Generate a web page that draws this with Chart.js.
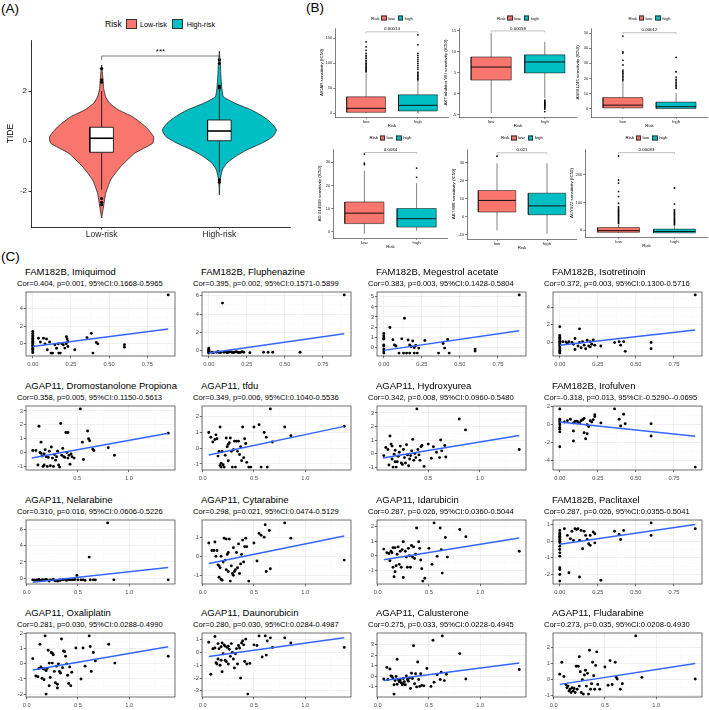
<!DOCTYPE html>
<html>
<head>
<meta charset="utf-8">
<script src="https://cdn.jsdelivr.net/npm/chart.js@4.4.1/dist/chart.umd.min.js"></script>
<style>
  html, body { margin: 0; padding: 0; background: #fff; overflow: hidden; }
  #page { position: relative; width: 709px; height: 710px; font-family: Arial, "Liberation Sans", Helvetica, sans-serif; color: #000; }
  #page canvas { position: absolute; }
  .t { position: absolute; white-space: nowrap; line-height: 1; }
  .lg { position: absolute; display: flex; align-items: center; white-space: nowrap; line-height: 1; transform: translate(-50%, -50%); }
  .lg i { display: inline-block; box-sizing: border-box; border: 0.5px solid #333; }
</style>
</head>
<body>
<div id="page"></div>
<script>
// ---------- (A) TIDE violin ----------
const riskLabels = ['Low-risk', 'High-risk'];
const riskColors = ['#F8766D', '#00BFC4'];
const tideTicks = [-2, 0, 2];
const tideLowLevels  = [-3.08, -2.6, -2.1, -1.56, -1.03, -0.49, -0.09, 0.17, 0.57, 0.97, 1.24, 1.51, 1.77, 2.1, 2.5, 3.04];
const tideLowWidth   = [0, 0.017, 0.034, 0.076, 0.161, 0.28, 0.433, 0.442, 0.374, 0.263, 0.144, 0.068, 0.034, 0.017, 0.011, 0];
const tideHighLevels = [-2.16, -1.56, -1.16, -0.89, -0.63, -0.36, -0.09, 0.17, 0.44, 0.71, 0.97, 1.24, 1.51, 1.77, 2.1, 2.6, 3.1, 3.6];
const tideHighWidth  = [0, 0.006, 0.025, 0.062, 0.133, 0.232, 0.359, 0.453, 0.485, 0.444, 0.374, 0.274, 0.133, 0.034, 0.021, 0.013, 0.008, 0];
const tideLowBox  = [-1.95, -0.45, 0.11, 0.55, 2.0];   // lo, q1, median, q3, hi
const tideHighBox = [-1.25, 0.01, 0.4, 0.84, 2.05];
const tideLowOut  = [2.35, 2.45, 2.9, -2.3, -2.45, -2.55];
const tideHighOut = [2.12, 2.2, 3.1, 3.25, -1.55, -1.65];
const tideBracket = 3.4;

// ---------- (B) drug sensitivity boxplots ----------
const drugNames = ['AICAR', 'AKT.inhibitor.VIII', 'AS601245', 'AG.014699', 'ABT.888', 'AUY922'];
const drugP = ['0.00014', '0.00058', '0.00012', '0.0034', '0.021', '0.00083'];
const drugTicks = [[0, 50, 100, 150], [-5, 0, 5, 10, 15], [0, 10, 20, 30, 40, 50], [0, 10, 20, 30], [-10, 0, 10, 20, 30], [0, 100, 200]];
const drugLimits = [[-7.4, 170.6], [-5.5, 15.7], [-5.3, 53.3], [-2.6, 35.7], [-12.3, 37.4], [-25, 293]];
const drugBracket = [163, 15, 50.2, 34.2, 35.3, 280];
const drugLowBox = [[0, 2, 10, 33, 80], [-4.5, 3.3, 6.4, 8.8, 14.5], [0, 0.7, 2.5, 7.5, 17.5], [-0.8, 3.6, 8.1, 12.9, 26.4], [-7.5, 2.6, 9, 14.5, 29.5], [-10, -8, -2, 9, 20]];
const drugHighBox = [[0, 4.7, 16, 37, 85], [-1.0, 5, 7.6, 9.3, 12.4], [0, 0.3, 1.5, 4.5, 10.5], [0.5, 2.1, 5.7, 10.1, 21], [-9.3, 1.1, 6, 13, 29.5], [-10, -10, -5, 3.5, 14]];
const drugLowOut = [
  [83, 85, 87, 89, 91, 93, 95, 98, 100, 103, 106, 110, 113, 116, 120, 126, 133, 143],
  [],
  [18.5, 19.5, 20.5, 21.5, 22.5, 23.5, 24.5, 25.6, 29, 32, 36.8, 37.5, 48],
  [29, 29.6, 33.5],
  [33.4],
  [24, 28, 32, 36, 40, 44, 48, 52, 56, 60, 64, 68, 72, 76, 80, 85, 97, 121, 139, 170, 181, 268]
];
const drugHighOut = [
  [67, 70, 73, 76, 79, 82, 88, 92, 96, 100, 104, 108, 112, 116, 120, 137, 157],
  [-1.5, -1.8, -2.0, -2.2, -2.4, -2.6, -2.8, -3.0, -3.3, -3.6, -4.2],
  [13.6, 14.5, 15.5, 16.5, 17.5, 18.5, 19.5, 21, 24.5, 34],
  [23.5, 27.5],
  [],
  [19, 23, 27, 31, 35, 39, 43, 47, 51, 55, 59, 63, 68, 73, 94, 152]
];

// ---------- (C) correlation scatter plots ----------
const famTicks = [0, 0.25, 0.5, 0.75];
const agapTicks = [0, 0.5, 1.0];
const imiquimodPts = [[0,1.4],[0,1.15],[0,0.95],[0,0.8],[0,0.6],[0,0.45],[0,0.3],[0,0.15],[0,0],[0,-0.15],[0,-0.3],[0,-0.5],[0,-0.65],[0,-0.8],[0,-1.0],[0.037,0.63],[0.07,0.63],[0.05,0.2],[0.09,0.55],[0.08,0],[0.11,0.2],[0.095,-0.67],[0.12,-1.04],[0.13,-1.04],[0.145,-0.1],[0.156,-0.5],[0.167,0],[0.19,0],[0.17,-1.04],[0.2,-0.1],[0.21,-0.48],[0.22,0],[0.23,-0.3],[0.18,-1.04],[0.22,0.8],[0.225,0.55],[0.23,0.26],[0.275,-0.67],[0.355,0.7],[0.383,1.18],[0.394,-1.04],[0.416,0.15],[0.426,0],[0.6,-0.1],[0.6,-0.37],[0.887,5.5]];
const fluphenazinePts = [[0,0.25],[0,0.1],[0,0],[0,-0.1],[0,-0.2],[0,-0.3],[0.02,-0.2],[0.03,-0.25],[0.05,-0.2],[0.06,-0.15],[0.07,-0.25],[0.08,-0.2],[0.09,5.2],[0.1,-0.2],[0.11,-0.15],[0.12,-0.25],[0.13,-0.2],[0.14,-0.15],[0.15,-0.2],[0.16,-0.25],[0.17,-0.2],[0.18,-0.15],[0.19,-0.2],[0.2,-0.25],[0.21,-0.2],[0.22,-0.15],[0.23,-0.2],[0.27,-0.25],[0.36,-0.2],[0.39,-0.2],[0.42,-0.2],[0.6,-0.2],[0.89,6.1]];
const megestrolPts = [[0,1.35],[0,1.1],[0,0.85],[0,0.8],[0,0.2],[0,0.1],[0,-0.2],[0,-0.4],[0,-0.6],[0.04,1.95],[0.06,0.73],[0.07,0.2],[0.08,0.1],[0.1,-0.6],[0.118,0.82],[0.136,2.87],[0.13,-0.6],[0.15,-0.6],[0.16,0.7],[0.17,0.2],[0.17,-0.6],[0.18,0.05],[0.19,0.6],[0.2,-0.05],[0.2,-0.6],[0.21,0.15],[0.22,-0.6],[0.23,-0.1],[0.27,0.65],[0.36,-0.6],[0.39,0.35],[0.4,-0.1],[0.42,0.75],[0.43,-0.6],[0.6,-0.2],[0.6,-0.4],[0.89,5.2]];
const isotretinoinPts = [[0,1.8],[0,0.8],[0,0.6],[0,0.45],[0,0.3],[0,0.15],[0,0],[0,-0.15],[0,-0.3],[0,-0.5],[0,-0.7],[0,-0.9],[0,-1.05],[0,-1.2],[0.02,0.1],[0.04,0.05],[0.05,-0.1],[0.06,0.1],[0.08,0],[0.09,-0.2],[0.1,0.45],[0.1,-0.8],[0.12,-0.4],[0.13,1.55],[0.13,0],[0.14,-0.6],[0.15,0.1],[0.16,-0.3],[0.17,-0.7],[0.18,0.25],[0.19,-0.4],[0.2,0.1],[0.2,-0.5],[0.21,-0.2],[0.22,0.3],[0.23,-0.3],[0.27,-0.4],[0.36,0],[0.39,0.1],[0.4,-0.3],[0.42,0.1],[0.43,-1.0],[0.6,0],[0.6,-0.7],[0.89,5.4]];
const dromostanolonePts = [[0.07,0.15],[0.1,0.15],[0.12,-0.9],[0.13,1.9],[0.14,0],[0.15,0.75],[0.15,-0.05],[0.16,-0.25],[0.17,-1.0],[0.18,-0.9],[0.18,-0.1],[0.19,0.2],[0.2,-0.3],[0.21,-1.0],[0.22,-0.35],[0.23,0.1],[0.24,-0.95],[0.25,0.4],[0.26,-0.4],[0.27,-1.0],[0.28,-0.15],[0.29,-0.55],[0.3,-0.3],[0.31,0.1],[0.32,-0.9],[0.33,-1.05],[0.34,2.1],[0.35,-0.2],[0.36,0.3],[0.37,-0.3],[0.38,-0.35],[0.39,1.45],[0.4,0.0],[0.41,1.45],[0.41,-0.4],[0.42,-0.2],[0.43,-0.85],[0.44,-0.1],[0.45,-0.3],[0.47,-0.4],[0.53,3.15],[0.55,0.75],[0.56,-0.5],[0.6,1.55],[0.61,1.0],[0.62,0.85],[0.65,0.25],[0.66,0.15],[0.8,0.35],[0.86,-0.2],[1.38,1.4]];
const tfduPts = [[0.06,1.0],[0.08,0.7],[0.1,0.4],[0.12,0.55],[0.13,0.85],[0.14,0.6],[0.15,-0.5],[0.16,-0.2],[0.17,1.35],[0.17,-1.1],[0.18,-1.2],[0.18,-0.95],[0.19,-0.2],[0.2,-1.05],[0.21,-1.2],[0.22,-0.45],[0.23,0.65],[0.24,0.1],[0.25,0.25],[0.25,-0.8],[0.26,0.35],[0.27,0.65],[0.28,-0.2],[0.29,-1.2],[0.3,-0.1],[0.31,0.45],[0.32,-1.2],[0.33,0.45],[0.34,-0.2],[0.35,0.45],[0.36,-0.4],[0.37,0.1],[0.38,-0.8],[0.39,1.35],[0.4,-0.6],[0.41,0.6],[0.42,0.3],[0.43,-0.9],[0.45,-1.2],[0.47,-1.2],[0.5,1.35],[0.55,1.5],[0.57,-1.2],[0.6,1.0],[0.62,0.7],[0.63,-1.2],[0.66,2.5],[0.68,0.4],[0.8,1.35],[0.86,0.8],[1.38,1.4]];
const hydroxyureaPts = [[0.07,-0.15],[0.09,0.45],[0.11,0.3],[0.12,-0.85],[0.13,1.3],[0.14,0.7],[0.15,-0.4],[0.15,0.55],[0.16,-1.0],[0.17,-0.05],[0.18,0.25],[0.18,-0.6],[0.19,-1.0],[0.2,-0.6],[0.21,-0.2],[0.22,0.1],[0.23,0.55],[0.24,-0.7],[0.25,-0.8],[0.26,0.3],[0.27,-0.3],[0.28,-0.7],[0.29,0.65],[0.3,-0.1],[0.31,-0.9],[0.32,-0.4],[0.33,-0.15],[0.34,0.2],[0.35,1.05],[0.36,-0.5],[0.37,0.0],[0.38,-0.3],[0.39,3.3],[0.4,0.3],[0.41,-0.1],[0.42,-0.5],[0.43,0.5],[0.44,0.6],[0.46,-0.95],[0.5,0.7],[0.53,-0.35],[0.55,0.5],[0.58,0.1],[0.61,-0.3],[0.62,1.0],[0.63,0.2],[0.66,0.6],[0.67,-0.25],[0.8,2.55],[0.86,1.75],[1.38,0.3]];
const irofulvenPts = [[0,1.75],[0,0.6],[0,0.4],[0,0.2],[0,0],[0,-0.3],[0,-0.5],[0,-0.8],[0,-2.45],[0.03,0.3],[0.05,0.45],[0.07,0.6],[0.09,0.2],[0.09,-0.7],[0.09,-1.8],[0.1,0.35],[0.11,0.4],[0.12,0.3],[0.13,0.2],[0.14,0.45],[0.15,0.55],[0.16,0.7],[0.16,-0.9],[0.17,-1.55],[0.18,0.0],[0.18,-1.0],[0.19,-0.2],[0.2,0.45],[0.21,0.3],[0.22,0.55],[0.23,1.1],[0.23,0.9],[0.27,0.2],[0.36,1.75],[0.39,0.6],[0.4,-0.15],[0.42,1.15],[0.43,0.1],[0.6,0.1],[0.6,-1.25],[0.89,-4.7]];
const nelarabinePts = [[0.06,-0.2],[0.08,-0.25],[0.1,-0.2],[0.12,-0.15],[0.13,-0.25],[0.15,-0.2],[0.16,-0.2],[0.17,-0.25],[0.18,-0.2],[0.19,-0.15],[0.2,-0.2],[0.22,-0.35],[0.23,-0.2],[0.25,-0.2],[0.26,-0.15],[0.27,-0.25],[0.28,-0.3],[0.3,-0.35],[0.31,-0.3],[0.32,-0.2],[0.33,-0.25],[0.35,-0.2],[0.36,-0.15],[0.38,-0.2],[0.39,-0.25],[0.4,-0.2],[0.42,-0.15],[0.43,-0.2],[0.45,-0.2],[0.47,-0.15],[0.49,0.35],[0.5,-0.2],[0.53,-0.2],[0.55,-0.2],[0.57,-0.25],[0.61,2.6],[0.62,-0.2],[0.65,-0.2],[0.67,-0.2],[0.79,6.8],[0.85,-0.2],[1.38,-0.2]];
const cytarabinePts = [[0.06,0.7],[0.09,0.3],[0.11,0.3],[0.12,0.75],[0.13,0.0],[0.14,0.3],[0.15,-0.45],[0.16,-0.5],[0.16,-1.1],[0.17,-0.6],[0.18,0.0],[0.18,-1.2],[0.19,-1.25],[0.2,-0.3],[0.21,0.95],[0.22,-0.2],[0.23,0.9],[0.23,-0.7],[0.24,0.1],[0.25,-0.8],[0.25,0.2],[0.26,0.9],[0.27,-1.3],[0.28,-0.5],[0.29,-0.9],[0.3,0.45],[0.3,-1.0],[0.31,-0.8],[0.32,-0.7],[0.33,0.2],[0.34,-0.6],[0.35,0.65],[0.36,-0.9],[0.37,-0.4],[0.38,0.1],[0.39,0.85],[0.4,-0.3],[0.41,0.5],[0.42,0.95],[0.43,0.5],[0.45,-1.3],[0.5,0.7],[0.53,-0.25],[0.55,1.2],[0.57,1.1],[0.6,1.0],[0.61,1.65],[0.62,-0.8],[0.65,1.35],[0.66,-0.65],[0.8,1.75],[0.86,0.95],[1.38,-0.2]];
const idarubicinPts = [[0.06,0.45],[0.09,0.2],[0.11,0.15],[0.12,-0.35],[0.13,0.3],[0.14,0.2],[0.15,-0.8],[0.15,0.55],[0.16,-1.45],[0.17,-1.1],[0.17,0.55],[0.18,-0.7],[0.19,0.1],[0.2,0.6],[0.21,-0.6],[0.22,0.3],[0.23,-0.8],[0.24,0.4],[0.25,0.95],[0.25,-1.5],[0.27,0.3],[0.28,-0.1],[0.29,-0.8],[0.3,0.5],[0.31,0.0],[0.32,-0.8],[0.33,0.7],[0.34,-0.1],[0.35,0.6],[0.36,-0.2],[0.37,0.1],[0.38,1.9],[0.4,0.95],[0.41,0.5],[0.42,-0.3],[0.43,-0.9],[0.44,-1.75],[0.46,-1.55],[0.5,0.5],[0.53,-0.6],[0.55,2.25],[0.58,-0.05],[0.61,1.9],[0.62,0.4],[0.63,-1.2],[0.66,1.25],[0.68,-0.1],[0.8,1.8],[0.86,1.3],[1.38,0.3]];
const paclitaxelPts = [[0,0.65],[0,0.5],[0,0.4],[0,0.3],[0,0.2],[0,0.1],[0,0],[0,-0.1],[0,-0.3],[0,-0.5],[0,-0.7],[0,-0.9],[0,-1.6],[0,-1.7],[0,-2.0],[0,-2.4],[0.03,0.75],[0.05,0.35],[0.06,-1.9],[0.07,0.15],[0.08,0.6],[0.09,0.05],[0.1,0.75],[0.11,0.7],[0.12,0.75],[0.13,0.05],[0.13,-2.15],[0.14,0.65],[0.15,-0.45],[0.16,0.6],[0.17,0.35],[0.18,0.1],[0.19,-0.15],[0.2,0.35],[0.2,-0.25],[0.22,0.55],[0.23,0.45],[0.23,-0.1],[0.27,-2.35],[0.36,0.6],[0.39,0.4],[0.4,0.1],[0.42,0.65],[0.6,1.1],[0.6,0.35],[0.89,0.75]];
const oxaliplatinPts = [[0.06,0.35],[0.09,-0.8],[0.11,-0.85],[0.12,-0.3],[0.13,1.3],[0.14,-0.2],[0.15,-0.95],[0.16,-0.3],[0.17,-0.35],[0.17,-1.05],[0.18,1.85],[0.19,-2.0],[0.19,-0.45],[0.2,-0.3],[0.21,0.9],[0.22,-1.45],[0.22,0.05],[0.23,-0.9],[0.24,0.75],[0.25,0.7],[0.25,0.05],[0.26,0.6],[0.27,-0.5],[0.28,-1.25],[0.29,-0.15],[0.3,-1.6],[0.3,-1.35],[0.31,0.0],[0.32,-0.5],[0.33,-0.6],[0.34,1.65],[0.35,-0.25],[0.36,0.85],[0.37,0.8],[0.38,0.5],[0.39,0.0],[0.4,-0.75],[0.41,-1.3],[0.42,-0.2],[0.43,-1.45],[0.44,-0.55],[0.48,1.05],[0.53,-1.0],[0.55,1.05],[0.57,-0.15],[0.61,1.85],[0.62,1.15],[0.63,-0.5],[0.65,0.75],[0.67,0.2],[0.8,1.3],[0.86,0.05],[1.38,0.5]];
const daunorubicinPts = [[0.06,0.8],[0.08,-1.7],[0.1,0.3],[0.12,0.35],[0.12,1.25],[0.13,-0.8],[0.14,-0.9],[0.15,0.7],[0.15,-0.5],[0.16,0.3],[0.17,-1.0],[0.18,0.45],[0.18,-0.6],[0.19,0.75],[0.19,-1.5],[0.2,-0.1],[0.21,0.6],[0.22,0.5],[0.22,-0.6],[0.23,-0.7],[0.24,0.4],[0.25,0.5],[0.25,-0.9],[0.26,0.25],[0.27,-0.3],[0.28,0.7],[0.29,0.0],[0.3,-0.5],[0.31,-1.2],[0.32,-0.1],[0.33,0.3],[0.34,-0.9],[0.35,0.55],[0.36,0.35],[0.37,-2.0],[0.38,0.75],[0.39,0.9],[0.4,0.6],[0.41,-0.7],[0.42,1.05],[0.43,-0.9],[0.44,-3.25],[0.46,-0.85],[0.5,0.6],[0.53,0.55],[0.55,1.3],[0.58,-0.35],[0.61,1.3],[0.62,-0.2],[0.63,0.9],[0.66,1.15],[0.68,0.4],[0.8,1.15],[0.86,0.75],[1.38,0.4]];
const calusteronePts = [[0.06,-0.25],[0.09,0.85],[0.1,-0.3],[0.12,0.7],[0.13,0.05],[0.14,0.0],[0.15,-0.2],[0.16,-1.68],[0.16,-0.8],[0.17,-0.4],[0.18,0.0],[0.19,1.62],[0.19,-0.75],[0.2,-0.3],[0.21,-0.5],[0.22,-0.35],[0.23,-0.6],[0.24,-0.8],[0.25,-0.2],[0.25,-0.7],[0.26,-0.5],[0.27,-0.8],[0.28,0.05],[0.29,-0.3],[0.3,-0.45],[0.31,-0.15],[0.32,-1.15],[0.33,0.3],[0.34,-0.2],[0.35,2.9],[0.36,-0.7],[0.37,0.25],[0.38,-1.0],[0.39,1.37],[0.4,-0.3],[0.41,-0.95],[0.42,0.25],[0.43,-0.85],[0.45,-0.9],[0.48,0.75],[0.52,-0.95],[0.54,3.43],[0.55,-0.55],[0.58,0.15],[0.61,-0.3],[0.62,0.4],[0.63,3.84],[0.65,-0.4],[0.67,0.2],[0.8,2.16],[0.86,-0.25],[1.38,0.65]];
const fludarabinePts = [[0.06,0.35],[0.08,1.1],[0.1,0.2],[0.12,-0.3],[0.13,-0.5],[0.14,-0.4],[0.15,-0.7],[0.16,-0.6],[0.17,-0.8],[0.18,-0.5],[0.19,-0.7],[0.2,-0.55],[0.21,-0.8],[0.22,0.85],[0.23,-0.6],[0.24,0.85],[0.25,1.45],[0.25,-0.4],[0.26,0.5],[0.27,-0.8],[0.28,0.0],[0.29,-0.9],[0.3,0.3],[0.31,0.6],[0.32,-0.4],[0.33,0.4],[0.34,-0.9],[0.35,1.85],[0.36,-0.6],[0.37,-0.25],[0.38,1.1],[0.39,0.25],[0.4,-0.6],[0.41,0.9],[0.42,1.75],[0.43,-0.3],[0.45,-0.6],[0.5,0.8],[0.53,-0.35],[0.55,1.2],[0.57,-0.3],[0.6,1.1],[0.61,0.15],[0.62,0.05],[0.65,-0.6],[0.67,-0.25],[0.8,2.75],[0.86,0.15],[1.38,0.05]];

const scatterTitles = ['FAM182B, Imiquimod', 'FAM182B, Fluphenazine', 'FAM182B, Megestrol acetate', 'FAM182B, Isotretinoin',
  'AGAP11, Dromostanolone Propiona', 'AGAP11, tfdu', 'AGAP11, Hydroxyurea', 'FAM182B, Irofulven',
  'AGAP11, Nelarabine', 'AGAP11, Cytarabine', 'AGAP11, Idarubicin', 'FAM182B, Paclitaxel',
  'AGAP11, Oxaliplatin', 'AGAP11, Daunorubicin', 'AGAP11, Calusterone', 'AGAP11, Fludarabine'];
const scatterStats = ['Cor=0.404, p=0.001, 95%CI:0.1668-0.5965', 'Cor=0.395, p=0.002, 95%CI:0.1571-0.5899',
  'Cor=0.383, p=0.003, 95%CI:0.1428-0.5804', 'Cor=0.372, p=0.003, 95%CI:0.1300-0.5716',
  'Cor=0.358, p=0.005, 95%CI:0.1150-0.5613', 'Cor=0.349, p=0.006, 95%CI:0.1040-0.5536',
  'Cor=0.342, p=0.008, 95%CI:0.0960-0.5480', 'Cor=-0.318, p=0.013, 95%CI:-0.5290--0.0695',
  'Cor=0.310, p=0.016, 95%CI:0.0606-0.5226', 'Cor=0.298, p=0.021, 95%CI:0.0474-0.5129',
  'Cor=0.287, p=0.026, 95%CI:0.0360-0.5044', 'Cor=0.287, p=0.026, 95%CI:0.0355-0.5041',
  'Cor=0.281, p=0.030, 95%CI:0.0288-0.4990', 'Cor=0.280, p=0.030, 95%CI:0.0284-0.4987',
  'Cor=0.275, p=0.033, 95%CI:0.0228-0.4945', 'Cor=0.273, p=0.035, 95%CI:0.0208-0.4930'];
const scatterPoints = [imiquimodPts, fluphenazinePts, megestrolPts, isotretinoinPts,
  dromostanolonePts, tfduPts, hydroxyureaPts, irofulvenPts,
  nelarabinePts, cytarabinePts, idarubicinPts, paclitaxelPts,
  oxaliplatinPts, daunorubicinPts, calusteronePts, fludarabinePts];
const scatterFits = [[0,-0.3,0.887,1.67],[0,-0.3,0.89,1.83],[0,-0.33,0.89,1.62],[0,-0.3,0.89,1.43],
  [0.06,-0.39,1.38,1.39],[0.06,-0.43,1.38,1.39],[0.06,-0.33,1.38,1.34],[0,0.29,0.89,-1.27],
  [0.06,-0.5,1.38,1.32],[0.06,-0.38,1.38,1.06],[0.06,-0.28,1.38,1.22],[0,-0.18,0.89,1.01],
  [0.06,-0.41,1.38,1.14],[0.06,-0.31,1.38,1.16],[0.06,-0.38,1.38,1.27],[0.06,-0.29,1.38,1.02]];
const scatterYTicks = [[0,2,4],[0,2,4,6],[0,1,2,3,4,5],[0,2,4],
  [-1,0,1,2,3],[-1,0,1,2],[-1,0,1,2,3],[-4,-2,0,2],
  [0,2,4,6],[-1,0,1],[-1,0,1,2],[-2,-1,0,1],
  [-2,-1,0,1,2],[-3,-2,-1,0,1],[-1,0,1,2,3],[-1,0,1,2]];

// ---------- helpers ----------
const FONT = 'Arial, "Liberation Sans", Helvetica, sans-serif';
Chart.defaults.font.family = FONT;
Chart.defaults.color = '#000';
const page = document.getElementById('page');

function makeCanvas(left, top, w, h) {
  const c = document.createElement('canvas');
  c.width = Math.round(w); c.height = Math.round(h);
  c.style.left = Math.round(left) + 'px'; c.style.top = Math.round(top) + 'px';
  page.appendChild(c);
  return c;
}
function text(str, left, top, size, color) {
  const d = document.createElement('div');
  d.className = 't'; d.textContent = str;
  d.style.left = left + 'px'; d.style.top = top + 'px'; d.style.fontSize = size + 'px';
  if (color) d.style.color = color;
  page.appendChild(d);
  return d;
}
function extent(vals) {
  const lo = Math.min(...vals), hi = Math.max(...vals), pad = (hi - lo) * 0.05;
  return [lo - pad, hi + pad];
}
function withMinors(majors, min, max) {
  const step = majors[1] - majors[0];
  const all = majors.map(v => ({value: v, minor: false}));
  majors.forEach(v => all.push({value: v - step / 2, minor: true}));
  all.push({value: majors[majors.length - 1] + step / 2, minor: true});
  return all.filter(t => t.value >= min - 1e-9 && t.value <= max + 1e-9).sort((a, b) => a.value - b.value);
}
const noPadY = s => { s.paddingTop = 0; s.paddingBottom = 0; };
const noPadX = s => { s.paddingLeft = 0; s.paddingRight = 0; };

// frame around the plot area, significance bracket
const annotate = {
  id: 'annotate',
  afterDatasetsDraw(chart, args, opts) {
    const {ctx, chartArea: a, scales: {x, y}} = chart;
    if (opts.frame) {
      ctx.save(); ctx.strokeStyle = opts.frame; ctx.lineWidth = 0.7;
      ctx.strokeRect(a.left, a.top, a.width, a.height); ctx.restore();
    }
    if (opts.bracket) {
      const b = opts.bracket;
      const x1 = x.getPixelForValue(b.from), x2 = x.getPixelForValue(b.to), yy = y.getPixelForValue(b.at);
      ctx.save();
      ctx.strokeStyle = b.color; ctx.lineWidth = b.width;
      ctx.beginPath(); ctx.moveTo(x1, yy + b.drop); ctx.lineTo(x1, yy); ctx.lineTo(x2, yy); ctx.lineTo(x2, yy + b.drop); ctx.stroke();
      ctx.fillStyle = '#000'; ctx.font = b.size + 'px ' + FONT;
      ctx.textAlign = 'center'; ctx.textBaseline = 'bottom';
      ctx.fillText(b.text, (x1 + x2) / 2, yy - b.gap);
      ctx.restore();
    }
  }
};

function violinPoints(c, levels, widths) {
  const right = levels.map((y, i) => ({x: c + widths[i], y}));
  const left = levels.map((y, i) => ({x: c - widths[i], y})).reverse();
  return right.concat(left);
}
function boxplotSets(c, stats, outs, st) {
  const [lo, q1, md, q3, hi] = stats;
  const h = st.half;
  const seg = (pts, w, order) => ({data: pts, showLine: true, borderColor: '#000', borderWidth: w, pointRadius: 0, fill: false, order});
  return [
    seg([{x: c, y: lo}, {x: c, y: q1}], st.lw, 4),
    seg([{x: c, y: q3}, {x: c, y: hi}], st.lw, 4),
    {data: [{x: c - h, y: q1}, {x: c + h, y: q1}, {x: c + h, y: q3}, {x: c - h, y: q3}, {x: c - h, y: q1}],
     showLine: true, fill: 'shape', backgroundColor: st.fill, borderColor: '#000', borderWidth: st.lw, pointRadius: 0, order: 3},
    seg([{x: c - h, y: md}, {x: c + h, y: md}], st.mw, 2),
    {data: outs.map(y => ({x: c, y})), pointRadius: st.r, pointBackgroundColor: '#000', pointBorderWidth: 0, order: 1}
  ];
}
const baseOpts = {responsive: false, animation: false, events: [], layout: {autoPadding: false}};

// ---------- panel labels ----------
text('(A)', 1, 2, 13.5);
text('(B)', 306, 1, 13.5);
text('(C)', 1, 249.5, 13.5);

// ---------- (A) ----------
text('Risk', 105, 20, 8.6);
[[125.7, 140], [171.7, 186.7]].forEach(([bx, tx], i) => {
  const sw = document.createElement('div');
  sw.style.cssText = `position:absolute;left:${bx}px;top:19.3px;width:11px;height:10px;box-sizing:border-box;border:0.8px solid #333;background:${riskColors[i]}`;
  page.appendChild(sw);
  text(riskLabels[i], tx, 20.6, 7.2);
});
{
  const cv = makeCanvas(0, 36, 296, 204);
  const boxSt = {half: 0.1, lw: 0.8, mw: 1.6, r: 1.6, fill: '#fff'};
  new Chart(cv, {
    type: 'scatter',
    data: {datasets: [
      {data: violinPoints(1, tideLowLevels, tideLowWidth), showLine: true, fill: 'shape', tension: 0.15,
       backgroundColor: riskColors[0], borderColor: '#222', borderWidth: 0.8, pointRadius: 0, order: 6},
      {data: violinPoints(2, tideHighLevels, tideHighWidth), showLine: true, fill: 'shape', tension: 0.15,
       backgroundColor: riskColors[1], borderColor: '#222', borderWidth: 0.8, pointRadius: 0, order: 6},
      ...boxplotSets(1, tideLowBox, tideLowOut, boxSt),
      ...boxplotSets(2, tideHighBox, tideHighOut, boxSt)
    ]},
    options: {...baseOpts,
      layout: {autoPadding: false, padding: {top: 4, right: 6, left: 0, bottom: 0}},
      plugins: {legend: {display: false}, tooltip: {enabled: false},
        annotate: {bracket: {from: 1, to: 2, at: tideBracket, text: '***', size: 8, drop: 4, gap: 0.5, color: '#444', width: 0.7}}},
      scales: {
        x: {type: 'linear', min: 0.4, max: 2.6,
          afterBuildTicks: s => { s.ticks = [1, 2].map(v => ({value: v})); },
          afterFit: s => { s.height = 13; noPadX(s); },
          ticks: {autoSkip: false, maxRotation: 0, minRotation: 0, padding: 0.5, color: '#222', font: {size: 8.5},
            callback: v => riskLabels[Math.round(v) - 1]},
          grid: {drawOnChartArea: false, tickLength: 2.5, tickColor: '#000', lineWidth: 0.8},
          border: {display: true, color: '#000', width: 0.8}},
        y: {type: 'linear', min: -3.44, max: 4.04,
          afterBuildTicks: s => { s.ticks = tideTicks.map(v => ({value: v})); },
          afterFit: s => { s.width = 31; noPadY(s); },
          ticks: {autoSkip: false, padding: 1.5, color: '#333', font: {size: 8}},
          title: {display: true, text: 'TIDE', font: {size: 8.5}, padding: {top: 6, bottom: 0}},
          grid: {drawOnChartArea: false, tickLength: 2.5, tickColor: '#000', lineWidth: 0.8},
          border: {display: true, color: '#000', width: 0.8}}
      }},
    plugins: [annotate]
  });
}

// ---------- (B) ----------
const bFrames = [
  {L: 335, R: 449, T: 28, B: 117}, {L: 459, R: 577, T: 28, B: 117}, {L: 591, R: 708, T: 28, B: 117},
  {L: 333, R: 448, T: 149, B: 238}, {L: 467, R: 577, T: 149, B: 239}, {L: 585, R: 708, T: 149, B: 237}
];
drugNames.forEach((name, i) => {
  const g = bFrames[i];
  // legend
  const lg = document.createElement('div');
  lg.className = 'lg';
  lg.style.left = ((g.L + g.R) / 2) + 'px';
  lg.style.top = (i < 3 ? 18.3 : 137.5) + 'px';
  lg.style.fontSize = '4.4px';
  lg.innerHTML = `<span style="margin-right:1.5px">Risk</span><i style="width:5.5px;height:5px;background:${riskColors[0]}"></i>` +
    `<span style="margin:0 3px 0 1.5px">low</span><i style="width:5.5px;height:5px;background:${riskColors[1]}"></i>` +
    `<span style="margin-left:1.5px">high</span>`;
  page.appendChild(lg);

  const cv = makeCanvas(g.L - 16, g.T - 3, g.R - g.L + 16, g.B - g.T + 3 + 14);
  const st = {half: 0.375, lw: 0.5, mw: 0.9, r: 0.9};
  new Chart(cv, {
    type: 'scatter',
    data: {datasets: [
      ...boxplotSets(1, drugLowBox[i], drugLowOut[i], {...st, fill: riskColors[0]}),
      ...boxplotSets(2, drugHighBox[i], drugHighOut[i], {...st, fill: riskColors[1]})
    ]},
    options: {...baseOpts,
      layout: {autoPadding: false, padding: {top: 3, right: 0, left: 0, bottom: 0}},
      plugins: {legend: {display: false}, tooltip: {enabled: false},
        annotate: {bracket: {from: 1, to: 2, at: drugBracket[i], text: drugP[i], size: 4.4, drop: 1.5, gap: 0.4, color: '#666', width: 0.4}}},
      scales: {
        x: {type: 'linear', min: 0.4, max: 2.6,
          afterBuildTicks: s => { s.ticks = [1, 2].map(v => ({value: v})); },
          afterFit: s => { s.height = 14; noPadX(s); },
          ticks: {autoSkip: false, maxRotation: 0, minRotation: 0, padding: 0.5, color: '#222', font: {size: 4.4},
            callback: v => ['low', 'high'][Math.round(v) - 1]},
          title: {display: true, text: 'Risk', font: {size: 4.4}, padding: {top: 0, bottom: 2.4}},
          grid: {drawOnChartArea: false, tickLength: 1.8, tickColor: '#000', lineWidth: 0.5},
          border: {display: true, color: '#000', width: 0.5}},
        y: {type: 'linear', min: drugLimits[i][0], max: drugLimits[i][1],
          afterBuildTicks: s => { s.ticks = drugTicks[i].map(v => ({value: v})); },
          afterFit: s => { s.width = 16; noPadY(s); },
          ticks: {autoSkip: false, padding: 1, color: '#222', font: {size: 4}},
          title: {display: true, text: name + ' sensitivity (IC50)', font: {size: 4.4}, padding: {top: 0.5, bottom: 0}},
          grid: {drawOnChartArea: false, tickLength: 1.8, tickColor: '#000', lineWidth: 0.5},
          border: {display: true, color: '#000', width: 0.5}}
      }},
    plugins: [annotate]
  });
});

// ---------- (C) ----------
scatterTitles.forEach((title, k) => {
  const col = k % 4, row = Math.floor(k / 4);
  const L = Math.round(26 + 175.7 * col), T = Math.round(292.3 + 113.7 * row);
  const W = 149, H = 64;
  text(title, L - 1, T - 24.7, 9.5);
  text(scatterStats[k], L - 9, T - 11.7, 7.6);

  const pts = scatterPoints[k];
  const fam = title.startsWith('FAM');
  const xTicks = fam ? famTicks : agapTicks;
  const [xMin, xMax] = extent(pts.map(p => p[0]));
  const [yMin, yMax] = extent(pts.map(p => p[1]));
  const f = scatterFits[k];
  const gridColor = c => (c.tick && c.tick.minor) ? '#F4F4F4' : '#EBEBEB';
  const gridWidth = c => (c.tick && c.tick.minor) ? 0.4 : 0.7;
  const tickColor = c => (c.tick && c.tick.minor) ? 'rgba(0,0,0,0)' : '#333';

  const cv = makeCanvas(L - 22, T - 4, W + 22 + 3, H + 4 + 12);
  new Chart(cv, {
    type: 'scatter',
    data: {datasets: [
      {data: pts.map(([x, y]) => ({x, y})), pointRadius: 1.45, pointBackgroundColor: '#000', pointBorderWidth: 0, order: 2},
      {data: [{x: f[0], y: f[1]}, {x: f[2], y: f[3]}], showLine: true, borderColor: '#3366FF', borderWidth: 1.5, pointRadius: 0, order: 1}
    ]},
    options: {...baseOpts,
      layout: {autoPadding: false, padding: {top: 4, right: 3, left: 0, bottom: 0}},
      plugins: {legend: {display: false}, tooltip: {enabled: false}, annotate: {frame: '#333333'}},
      scales: {
        x: {type: 'linear', min: xMin, max: xMax,
          afterBuildTicks: s => { s.ticks = withMinors(xTicks, s.min, s.max); },
          afterFit: s => { s.height = 12; noPadX(s); },
          ticks: {autoSkip: false, maxRotation: 0, minRotation: 0, padding: 2.5, color: '#4D4D4D', font: {size: 5.7},
            callback: (v, i, t) => t[i].minor ? '' : v.toFixed(fam ? 2 : 1)},
          grid: {color: gridColor, lineWidth: gridWidth, tickColor: tickColor, tickLength: 2.2},
          border: {display: false}},
        y: {type: 'linear', min: yMin, max: yMax,
          afterBuildTicks: s => { s.ticks = withMinors(scatterYTicks[k], s.min, s.max); },
          afterFit: s => { s.width = 22; noPadY(s); },
          ticks: {autoSkip: false, padding: 1, color: '#4D4D4D', font: {size: 5.7},
            callback: (v, i, t) => t[i].minor ? '' : String(v)},
          grid: {color: gridColor, lineWidth: gridWidth, tickColor: tickColor, tickLength: 2.2},
          border: {display: false}}
      }},
    plugins: [annotate]
  });
});
</script>
</body>
</html>
